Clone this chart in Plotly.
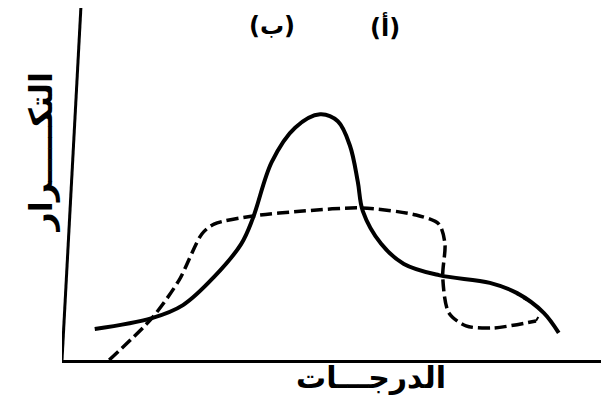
"""
Hand-drawn frequency curves (أ) and (ب) over grades
"""

import plotly.graph_objects as go

# Curve (أ): peaked, solid
grades_a = [5.9, 16.2, 21.8, 27.4, 32.3, 34.4, 37.8, 42.0, 46.5, 49.7, 51.9, 53.3,
            54.2, 57.5, 61.6, 67.9, 77.1, 82.0, 86.8, 89.5]
freq_a = [8.8, 11.9, 15.6, 23.6, 33.0, 40.3, 56.3, 66.0, 69.8, 67.8, 60.8, 50.6,
          42.3, 33.0, 27.3, 24.1, 21.9, 19.0, 13.4, 7.7]

# Curve (ب): flat, dashed
grades_b = [8.5, 16.2, 21.1, 25.2, 27.4, 34.4, 43.4, 53.9, 63.8, 67.9, 69.0, 68.6,
            69.7, 72.8, 77.7, 85.4]
freq_b = [0.0, 11.9, 22.7, 35.8, 38.6, 40.9, 42.3, 43.2, 41.2, 38.6, 33.0, 23.6,
          13.4, 9.7, 9.1, 11.1]

# faint dotted tail of (ب) rising back to (أ)
grades_b_tail = [85.4, 86.3, 82.0]
freq_b_tail = [11.1, 14.2, 18.5]

fig = go.Figure()

# Add curve (ب)
fig.add_trace(go.Scatter(
    x=grades_b, y=freq_b,
    mode='lines',
    line=dict(color='black', width=3.5, dash='12px,5px', shape='spline', smoothing=0.8),
    hoverinfo='skip'
))

fig.add_trace(go.Scatter(
    x=grades_b_tail, y=freq_b_tail,
    mode='lines',
    line=dict(color='black', width=2, dash='4px,6px', shape='spline', smoothing=0.6),
    hoverinfo='skip'
))

# Add curve (أ)
fig.add_trace(go.Scatter(
    x=grades_a, y=freq_a,
    mode='lines',
    line=dict(color='black', width=4, shape='spline', smoothing=1.0),
    hoverinfo='skip'
))

# slanted hand-drawn y axis
fig.add_shape(type='line', x0=0, y0=0, x1=3.4, y1=100,
              line=dict(color='black', width=3))

font_ar = 'DejaVu Sans'

# axis titles
fig.add_annotation(
    text='<b>التكـــــرار</b>', textangle=-90,
    xref='paper', yref='paper', x=-0.075, y=0.59,
    showarrow=False, font=dict(family=font_ar, size=32, color='black')
)
fig.add_annotation(
    text='<b>الدرجـــات</b>',
    xref='paper', yref='paper', x=0.557, y=-0.105,
    showarrow=False, font=dict(family=font_ar, size=30, color='black')
)

# curve labels at the top
fig.add_annotation(
    text='<b>(ب)</b>', xref='paper', yref='paper', x=0.378, y=0.995, yanchor='top',
    showarrow=False, font=dict(family=font_ar, size=24, color='black')
)
fig.add_annotation(
    text='<b>(أ)</b>', xref='paper', yref='paper', x=0.582, y=0.995, yanchor='top',
    showarrow=False, font=dict(family=font_ar, size=24, color='black')
)

fig.update_layout(
    width=609,
    height=415,
    margin=dict(l=54, r=0, t=0, b=63),
    plot_bgcolor='white',
    paper_bgcolor='white',
    showlegend=False,
    xaxis=dict(range=[0, 100], showgrid=False, zeroline=False, showticklabels=False,
               ticks='', showline=True, linecolor='black', linewidth=3),
    yaxis=dict(range=[0, 100], showgrid=False, zeroline=False, showticklabels=False,
               ticks='', showline=False),
)

fig.write_html("out.html")
